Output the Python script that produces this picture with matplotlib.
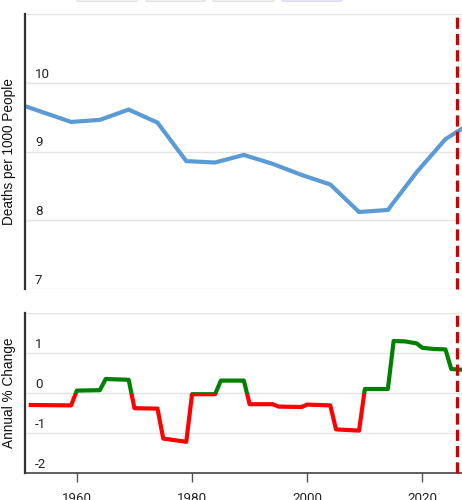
import matplotlib
matplotlib.use("Agg")
import matplotlib.pyplot as plt
from matplotlib.patches import FancyBboxPatch, Rectangle
import matplotlib.transforms as mtransforms

# ---- data ----
rate_years = [1951, 1959, 1964, 1969, 1974, 1979, 1984, 1989, 1994, 1999, 2004, 2009, 2014, 2019, 2024, 2027]
rate_values = [9.66, 9.43, 9.46, 9.61, 9.42, 8.86, 8.84, 8.95, 8.82, 8.66, 8.52, 8.12, 8.15, 8.70, 9.18, 9.34]

chg_years = [1952, 1959, 1960, 1964, 1965, 1969, 1970, 1974, 1975, 1979, 1980, 1984, 1985, 1989,
             1990, 1994, 1995, 1999, 2000, 2004, 2005, 2009, 2010, 2014, 2015, 2017, 2019, 2020,
             2022, 2024, 2025, 2027]
chg_values = [-0.30, -0.31, 0.06, 0.07, 0.35, 0.33, -0.38, -0.39, -1.14, -1.22, -0.03, -0.03, 0.31, 0.31,
              -0.28, -0.28, -0.34, -0.35, -0.29, -0.31, -0.91, -0.94, 0.10, 0.10, 1.30, 1.29, 1.24, 1.13,
              1.10, 1.09, 0.60, 0.58]

current_year = 2026
top_ticks = [7, 8, 9, 10]
bot_ticks = [-2, -1, 0, 1]
x_ticks = [1960, 1980, 2000, 2020]

# ---- figure ----
W, H = 462, 500
fig = plt.figure(figsize=(W / 100, H / 100), dpi=100)

x0 = 1951
xmax = x0 + 437 / 5.76

def frac_box(left, top, right, bottom):
    return [left / W, 1 - bottom / H, (right - left) / W, (bottom - top) / H]

ax1 = fig.add_axes(frac_box(25, 14, 462, 289))
ax2 = fig.add_axes(frac_box(25, 313, 462, 473))

grid_c = "#e4e4e4"
spine_c = "#333333"
tick_font = dict(family=["Roboto", "DejaVu Sans"], size=9.6, color="#222222")
label_font = dict(family=["Liberation Sans", "DejaVu Sans"], fontsize=9.8, color="#111111")

for ax in (ax1, ax2):
    ax.set_xlim(x0, xmax)
    ax.set_facecolor("white")
    for s in ("top", "right"):
        ax.spines[s].set_visible(False)
    ax.spines["left"].set_color(spine_c)
    ax.spines["left"].set_linewidth(1.6)
    ax.spines["left"].set_zorder(5)
    ax.tick_params(axis="y", left=False, labelleft=False)
    ax.axvline(current_year, color="#cc0000", lw=2.3, ls=(0, (3.5, 1.6)), zorder=6, clip_on=False)

# top axes
ax1.set_ylim(7, 11)
ax1.set_yticks(top_ticks + [11])
ax1.grid(axis="y", color=grid_c, lw=1.0)
ax1.spines["bottom"].set_visible(False)
ax1.tick_params(axis="x", bottom=False, labelbottom=False)
ax1.plot(rate_years, rate_values, color="#5b9bd5", lw=3.0, solid_joinstyle="miter", zorder=3)
tr1 = mtransforms.blended_transform_factory(ax1.transAxes, ax1.transData)
off = mtransforms.ScaledTranslation(0, 2 / 100, fig.dpi_scale_trans)
for t in top_ticks:
    ax1.text(10 / 437, t, str(t), transform=tr1 + off, ha="left", va="bottom", **tick_font)
ax1.set_ylabel("Deaths per 1000 People", **label_font)
ax1.yaxis.set_label_coords(-8.5 / 437, 0.5)
ax1.text(current_year + 0.25, 10.6, "Current", rotation=-90, color="#d9541e", fontsize=7,
         ha="left", va="top", clip_on=False, family=["DejaVu Sans"])

# bottom axes
ax2.set_ylim(-2, 2)
ax2.set_yticks(bot_ticks + [2])
ax2.grid(axis="y", color=grid_c, lw=1.0)
ax2.spines["bottom"].set_color("#444444")
ax2.spines["bottom"].set_linewidth(1.2)
ax2.set_xticks(x_ticks)
ax2.set_xticklabels([str(x) for x in x_ticks], **tick_font)
ax2.tick_params(axis="x", length=6.5, width=1.0, color="#555555", pad=7.5)
tr2 = mtransforms.blended_transform_factory(ax2.transAxes, ax2.transData)
for t in bot_ticks:
    ax2.text(10 / 437, t, str(t), transform=tr2 + off, ha="left", va="bottom", **tick_font)

lr = ax2.plot(chg_years, chg_values, color="#ff0000", lw=3.0, zorder=3)[0]
lg = ax2.plot(chg_years, chg_values, color="#008000", lw=3.0, zorder=3)[0]
neg_clip = Rectangle((x0 - 5, -10), 200, 10, transform=ax2.transData)
pos_clip = Rectangle((x0 - 5, 0), 200, 10, transform=ax2.transData)
lr.set_clip_path(neg_clip)
lg.set_clip_path(pos_clip)
ax2.set_ylabel("Annual % Change", **label_font)
ax2.yaxis.set_label_coords(-8.5 / 437, 0.5)

# top buttons (cut off)
for (l, r, c) in [(76, 138, "#f0f0f0"), (145, 206, "#f0f0f0"), (212, 275, "#f0f0f0"), (281, 343, "#e3e3fb")]:
    p = FancyBboxPatch((l / W, 1 - 1.5 / H), (r - l) / W, 20 / H,
                       boxstyle="round,pad=0,rounding_size=0.006", transform=fig.transFigure,
                       facecolor=c, edgecolor="#dddddd", lw=0.6)
    fig.patches.append(p)

fig.savefig("out.png", dpi=100)
